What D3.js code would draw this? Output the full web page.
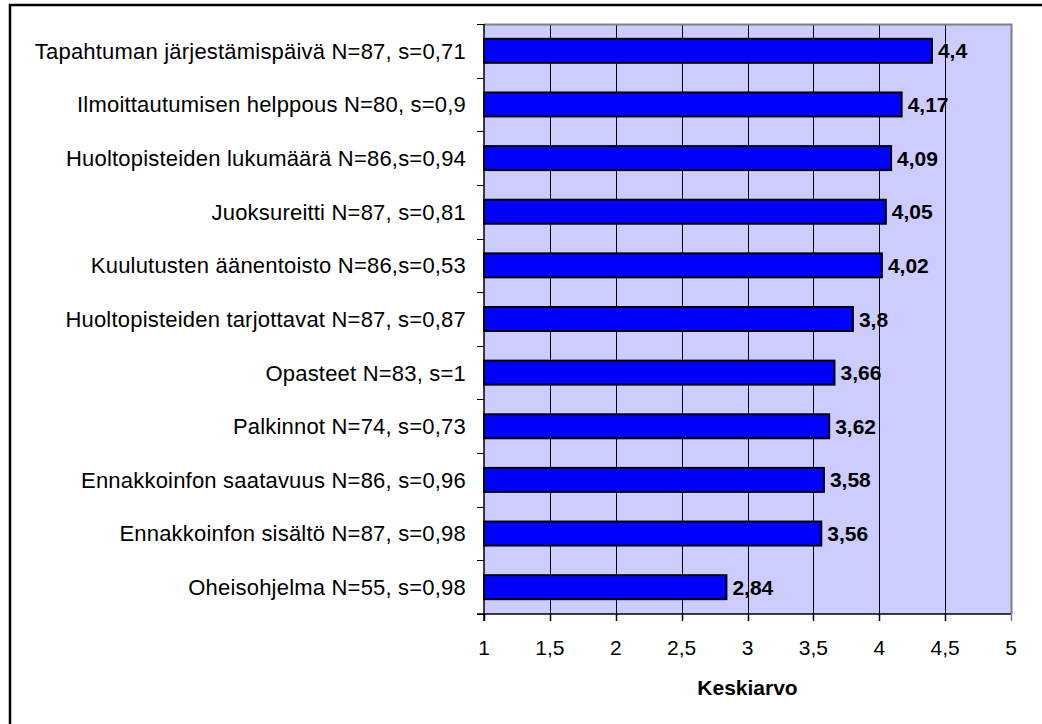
<!DOCTYPE html>
<html>
<head>
<meta charset="utf-8">
<script src="https://cdn.jsdelivr.net/npm/d3@7"></script>
<style>
  html, body { margin: 0; padding: 0; background: #fff; }
  svg { display: block; }
  text { font-family: "Liberation Sans", Arial, sans-serif; fill: #000; }
</style>
</head>
<body>
<svg id="chart" width="1042" height="724"></svg>
<script>
// Survey items, top to bottom
const categories = [
  "Tapahtuman järjestämispäivä N=87, s=0,71",
  "Ilmoittautumisen helppous N=80, s=0,9",
  "Huoltopisteiden lukumäärä N=86,s=0,94",
  "Juoksureitti N=87, s=0,81",
  "Kuulutusten äänentoisto N=86,s=0,53",
  "Huoltopisteiden tarjottavat N=87, s=0,87",
  "Opasteet N=83, s=1",
  "Palkinnot N=74, s=0,73",
  "Ennakkoinfon saatavuus N=86, s=0,96",
  "Ennakkoinfon sisältö N=87, s=0,98",
  "Oheisohjelma N=55, s=0,98"
];
// Mean score for each item
const means = [4.4, 4.17, 4.09, 4.05, 4.02, 3.8, 3.66, 3.62, 3.58, 3.56, 2.84];
const xTicks = [1, 1.5, 2, 2.5, 3, 3.5, 4, 4.5, 5];
const xTitle = "Keskiarvo";

const fmt = v => String(v).replace(".", ",");

const svg = d3.select("#chart");
const plot = { left: 484, right: 1011, top: 24, bottom: 614 };

// Outer frame
svg.append("rect")
  .attr("x", 10).attr("y", 5)
  .attr("width", 1060).attr("height", 740)
  .attr("fill", "none").attr("stroke", "#000").attr("stroke-width", 2.5);

const x = d3.scaleLinear().domain([1, 5]).range([plot.left, plot.right]);
const y = d3.scaleBand().domain(categories).range([plot.top, plot.bottom]).paddingInner(0).paddingOuter(0);
const barH = 24;

// Plot background
svg.append("rect")
  .attr("x", plot.left).attr("y", plot.top)
  .attr("width", plot.right - plot.left).attr("height", plot.bottom - plot.top)
  .attr("fill", "#CCCCFF");

// Vertical gridlines
svg.append("g").selectAll("line")
  .data(xTicks.filter(t => t > 1 && t < 5))
  .join("line")
  .attr("x1", d => Math.round(x(d)) + 0.5).attr("x2", d => Math.round(x(d)) + 0.5)
  .attr("y1", plot.top).attr("y2", plot.bottom)
  .attr("stroke", "#000").attr("stroke-width", 1);

// Plot border (top and right in grey)
svg.append("path")
  .attr("d", `M${plot.left},${plot.top + 0.5}H${plot.right + 0.5}V${plot.bottom}`)
  .attr("fill", "none").attr("stroke", "#808080").attr("stroke-width", 2);

// Bars
svg.append("g").selectAll("rect")
  .data(categories)
  .join("rect")
  .attr("x", x(1))
  .attr("y", (d) => y(d) + y.bandwidth() / 2 - barH / 2)
  .attr("width", (d, i) => x(means[i]) - x(1))
  .attr("height", barH)
  .attr("fill", "#0000FF")
  .attr("stroke", "#000")
  .attr("stroke-width", 2);

// Value labels
svg.append("g").selectAll("text")
  .data(categories)
  .join("text")
  .attr("x", (d, i) => x(means[i]) + 6)
  .attr("y", d => y(d) + y.bandwidth() / 2)
  .attr("dy", "0.36em")
  .attr("font-size", 21)
  .attr("font-weight", "bold")
  .text((d, i) => fmt(means[i]));

// Category axis
const yAxis = svg.append("g").attr("transform", `translate(${plot.left},0)`);
yAxis.append("line")
  .attr("x1", 0).attr("x2", 0).attr("y1", plot.top).attr("y2", plot.bottom + 7)
  .attr("stroke", "#000").attr("stroke-width", 1.5);
yAxis.selectAll("line.tick")
  .data(d3.range(categories.length + 1))
  .join("line")
  .attr("class", "tick")
  .attr("x1", -7).attr("x2", 0)
  .attr("y1", i => Math.round(plot.top + i * y.step()) + 0.5)
  .attr("y2", i => Math.round(plot.top + i * y.step()) + 0.5)
  .attr("stroke", "#000").attr("stroke-width", 1);
yAxis.selectAll("text")
  .data(categories)
  .join("text")
  .attr("x", -18)
  .attr("y", d => y(d) + y.bandwidth() / 2)
  .attr("dy", "0.36em")
  .attr("text-anchor", "end")
  .attr("font-size", 22)
  .attr("letter-spacing", 0.2)
  .text(d => d);

// Value axis
const xAxis = svg.append("g").attr("transform", `translate(0,${plot.bottom})`);
xAxis.append("line")
  .attr("x1", plot.left - 7).attr("x2", plot.right)
  .attr("y1", 0).attr("y2", 0)
  .attr("stroke", "#000").attr("stroke-width", 1.5);
xAxis.selectAll("line.tick")
  .data(xTicks)
  .join("line")
  .attr("class", "tick")
  .attr("x1", d => Math.round(x(d)) + 0.5).attr("x2", d => Math.round(x(d)) + 0.5)
  .attr("y1", 0).attr("y2", 7)
  .attr("stroke", d => d === 5 ? "#808080" : "#000").attr("stroke-width", 1.5);
xAxis.selectAll("text")
  .data(xTicks)
  .join("text")
  .attr("x", d => x(d))
  .attr("y", 41)
  .attr("text-anchor", "middle")
  .attr("font-size", 21)
  .text(d => fmt(d));

// Axis title
svg.append("text")
  .attr("x", (plot.left + plot.right) / 2)
  .attr("y", 695)
  .attr("text-anchor", "middle")
  .attr("font-size", 21)
  .attr("font-weight", "bold")
  .text(xTitle);
</script>
</body>
</html>
